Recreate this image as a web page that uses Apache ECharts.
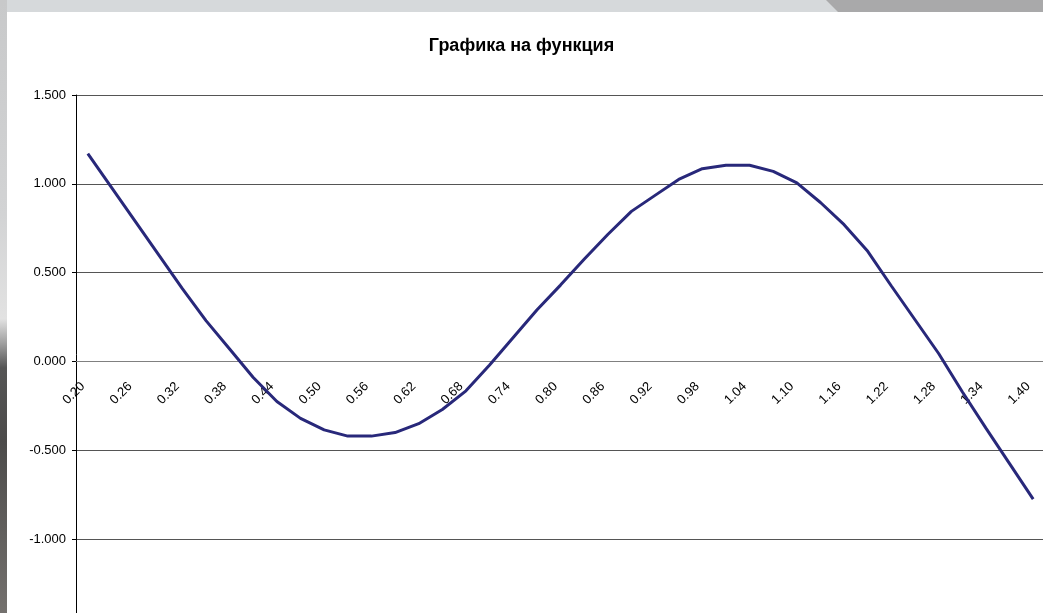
<!DOCTYPE html>
<html lang="bg">
<head>
    <meta charset="UTF-8">
    <title>Графика на функция</title>
    <script src="https://cdn.jsdelivr.net/npm/echarts@6/dist/echarts.min.js"></script>
    <style>
        html, body { margin: 0; padding: 0; }
        #main { width: 1043px; height: 613px; }
    </style>
</head>
<body>
    <div id="main"></div>

    <script type="text/javascript">
        // x стойности (категории)
        var xValues = ['0.20', '0.23', '0.26', '0.29', '0.32', '0.35', '0.38', '0.41', '0.44', '0.47',
                       '0.50', '0.53', '0.56', '0.59', '0.62', '0.65', '0.68', '0.71', '0.74', '0.77',
                       '0.80', '0.83', '0.86', '0.89', '0.92', '0.95', '0.98', '1.01', '1.04', '1.07',
                       '1.10', '1.13', '1.16', '1.19', '1.22', '1.25', '1.28', '1.31', '1.34', '1.37',
                       '1.40'];
        // стойности на функцията, прочетени от графиката
        var yValues = [1.17, 0.98, 0.79, 0.60, 0.41, 0.23, 0.07, -0.09, -0.225, -0.32,
                       -0.385, -0.42, -0.42, -0.40, -0.35, -0.27, -0.165, -0.02, 0.135, 0.29,
                       0.43, 0.575, 0.715, 0.845, 0.935, 1.025, 1.085, 1.105, 1.105, 1.07,
                       1.005, 0.895, 0.77, 0.62, 0.425, 0.235, 0.045, -0.17, -0.375, -0.575,
                       -0.775];
        var yTicks = [-1.5, -1.0, -0.5, 0.0, 0.5, 1.0, 1.5];

        var gridTop = 95, gridHeight = 533;
        var yMin = yTicks[0], yMax = yTicks[yTicks.length - 1];
        // x оста минава през нулата: отместване от долния край на графиката
        var zeroOffset = -gridHeight * (0 - yMin) / (yMax - yMin);

        var myChart = echarts.init(document.getElementById('main'));

        var option = {
            backgroundColor: '#ffffff',
            animation: false,
            title: {
                text: 'Графика на функция',
                left: 'center',
                top: 32,
                textStyle: {
                    fontFamily: 'Liberation Sans',
                    fontSize: 18,
                    fontWeight: 'bold',
                    color: '#000'
                }
            },
            grid: {
                left: 76,
                top: gridTop,
                width: 969,
                height: gridHeight,
                outerBoundsMode: 'none',
                containLabel: false
            },
            xAxis: {
                type: 'category',
                data: xValues,
                position: 'bottom',
                offset: zeroOffset,
                boundaryGap: true,
                axisLine: { onZero: false, lineStyle: { color: '#808080', width: 1 } },
                axisTick: { interval: 0, length: 5, lineStyle: { color: '#000' } },
                axisLabel: {
                    interval: 1,
                    rotate: 45,
                    margin: 18,
                    padding: [0, 7, 0, 0],
                    fontFamily: 'Liberation Sans',
                    fontSize: 13,
                    color: '#000'
                },
                splitLine: { show: false }
            },
            yAxis: {
                type: 'value',
                min: yMin,
                max: yMax,
                interval: 0.5,
                axisLine: { show: true, lineStyle: { color: '#000', width: 1 } },
                axisTick: { show: true, length: 4, lineStyle: { color: '#000' } },
                axisLabel: {
                    margin: 10,
                    fontFamily: 'Liberation Sans',
                    fontSize: 13,
                    color: '#000',
                    formatter: function (v) { return v.toFixed(3); }
                },
                splitLine: { lineStyle: { color: '#555', width: 1 } }
            },
            series: [{
                name: 'f(x)',
                type: 'line',
                data: yValues,
                showSymbol: false,
                smooth: false,
                lineStyle: { color: '#28287a', width: 3 }
            }],
            // сивата рамка на слайда около графиката
            graphic: [
                {
                    type: 'rect', left: 0, top: 0, z: 100,
                    shape: { width: 1043, height: 12 },
                    style: { fill: '#d6d9db' }
                },
                {
                    type: 'polygon', z: 101,
                    shape: { points: [[826, 0], [1043, 0], [1043, 12], [838, 12]] },
                    style: { fill: '#a9a9aa' }
                },
                {
                    type: 'rect', left: 0, top: 0, z: 100,
                    shape: { width: 7, height: 613 },
                    style: {
                        fill: new echarts.graphic.LinearGradient(0, 0, 0, 1, [
                            { offset: 0, color: '#c8c9ca' },
                            { offset: 0.35, color: '#d2d3d4' },
                            { offset: 0.52, color: '#e2e2e2' },
                            { offset: 0.56, color: '#a0a0a0' },
                            { offset: 0.6, color: '#555555' },
                            { offset: 0.72, color: '#4c4b4a' },
                            { offset: 1, color: '#74716e' }
                        ])
                    }
                }
            ]
        };

        myChart.setOption(option);
    </script>
</body>
</html>
